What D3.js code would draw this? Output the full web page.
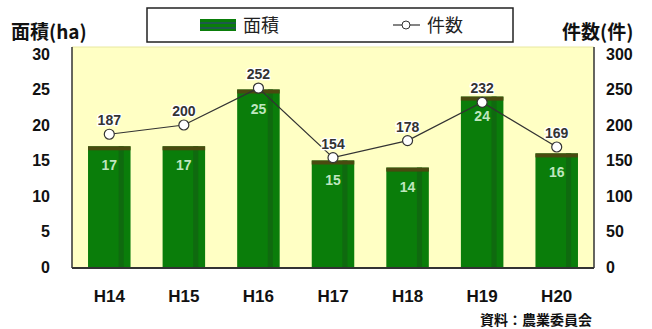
<!DOCTYPE html>
<html><head><meta charset="utf-8">
<script src="https://cdn.jsdelivr.net/npm/d3@7"></script>
<style>body{margin:0;background:#fff}svg{display:block}</style>
</head><body>
<svg id="c" width="652" height="329"></svg>
<script>
const categories = ["H14","H15","H16","H17","H18","H19","H20"];
const areaValues = [17, 17, 25, 15, 14, 24, 16];
const countValues = [187, 200, 252, 154, 178, 232, 169];
const leftTicks = [0,5,10,15,20,25,30];
const rightTicks = [0,50,100,150,200,250,300];

const svg = d3.select("#c");
const plot = {l:72, r:594, t:47, b:268};
const x = d3.scaleBand().domain(categories).range([plot.l, plot.r]).paddingInner(0.43).paddingOuter(0.215);
const yL = d3.scaleLinear().domain([0,30]).range([267, 54]);
const yR = d3.scaleLinear().domain([0,300]).range([267, 54]);
const numFont = "'Liberation Sans', Arial, sans-serif";
const jpFont = "'Noto Sans CJK JP', 'Noto Sans', sans-serif";

// plot background
svg.append("rect").attr("x",plot.l).attr("y",plot.t).attr("width",plot.r-plot.l).attr("height",plot.b-plot.t)
  .attr("fill","#ffffc4");
svg.append("line").attr("x1",plot.l).attr("x2",plot.r).attr("y1",plot.t).attr("y2",plot.t).attr("stroke","#e8e8a0").attr("stroke-width",1);
svg.append("line").attr("x1",plot.l).attr("x2",plot.l).attr("y1",plot.t).attr("y2",plot.b).attr("stroke","#333").attr("stroke-width",1.5);
svg.append("line").attr("x1",plot.r).attr("x2",plot.r).attr("y1",plot.t).attr("y2",plot.b).attr("stroke","#333").attr("stroke-width",1.5);

// bars
const bars = svg.append("g");
categories.forEach((c,i)=>{
  const bx = x(c), bw = x.bandwidth(), top = yL(areaValues[i]);
  bars.append("rect").attr("x",bx).attr("y",top).attr("width",bw).attr("height",yL(0)-top).attr("fill","#0a7d0a");
  bars.append("rect").attr("x",bx+bw*0.72).attr("y",top).attr("width",bw*0.12).attr("height",yL(0)-top).attr("fill","#0f6a0f");
  bars.append("rect").attr("x",bx).attr("y",top).attr("width",bw).attr("height",4).attr("fill","#4a4a10");
  bars.append("text").attr("x",bx+bw/2).attr("y",top+24).attr("text-anchor","middle")
    .attr("font-family",numFont).attr("font-weight","bold").attr("font-size",14).attr("fill","#bfe6bf")
    .text(areaValues[i]);
});

// bottom axis line
svg.append("line").attr("x1",plot.l).attr("x2",plot.r).attr("y1",plot.b).attr("y2",plot.b).attr("stroke","#333").attr("stroke-width",2);
const xa = svg.append("g").attr("transform",`translate(0,${plot.b})`)
  .call(d3.axisBottom(x).tickSize(0).tickPadding(22));
xa.select(".domain").remove();
xa.selectAll("text").attr("font-family",numFont).attr("font-weight","bold").attr("font-size",17).attr("fill","#111");

// left axis
const la = svg.append("g").attr("transform","translate(52,0)")
  .call(d3.axisLeft(yL).tickValues(leftTicks).tickSize(0).tickPadding(2));
la.select(".domain").remove();
la.selectAll("text").attr("font-family",numFont).attr("font-weight","bold").attr("font-size",16).attr("fill","#111");

// right axis
const ra = svg.append("g").attr("transform","translate(604,0)")
  .call(d3.axisRight(yR).tickValues(rightTicks).tickSize(0).tickPadding(2));
ra.select(".domain").remove();
ra.selectAll("text").attr("font-family",numFont).attr("font-weight","bold").attr("font-size",16).attr("fill","#111");

// line
const line = d3.line().x((d,i)=>x(categories[i])+x.bandwidth()/2).y(d=>yR(d));
svg.append("path").datum(countValues).attr("d",line).attr("fill","none").attr("stroke","#333").attr("stroke-width",1.2);
const pts = svg.append("g");
countValues.forEach((v,i)=>{
  const cx = x(categories[i])+x.bandwidth()/2, cy = yR(v);
  pts.append("circle").attr("cx",cx).attr("cy",cy).attr("r",5).attr("fill","#fff").attr("stroke","#333").attr("stroke-width",1.2);
  pts.append("text").attr("x",cx).attr("y",cy-9).attr("text-anchor","middle")
    .attr("font-family",numFont).attr("font-weight","bold").attr("font-size",14).attr("fill","#333")
    .attr("stroke","#fff").attr("stroke-width",2.5).attr("paint-order","stroke").text(v);
});

// axis titles
svg.append("text").attr("x",11).attr("y",39).attr("font-family",jpFont).attr("font-weight","bold").attr("font-size",19).attr("fill","#111").text("面積(ha)");
svg.append("text").attr("x",562).attr("y",39).attr("font-family",jpFont).attr("font-weight","bold").attr("font-size",19).attr("fill","#111").text("件数(件)");

// legend
svg.append("rect").attr("x",147).attr("y",8).attr("width",366).attr("height",34).attr("fill","#fff").attr("stroke","#222").attr("stroke-width",1.5);
const lg = svg.append("g");
lg.append("rect").attr("x",200).attr("y",19).attr("width",36).attr("height",12).attr("fill","#0a7d0a");
lg.append("rect").attr("x",200).attr("y",22).attr("width",36).attr("height",2).attr("fill","#1d5a4a");
lg.append("rect").attr("x",200).attr("y",27).attr("width",36).attr("height",2).attr("fill","#1d5a4a");
lg.append("text").attr("x",243).attr("y",32).attr("font-family",jpFont).attr("font-size",18).attr("fill","#222").text("面積");
lg.append("line").attr("x1",393).attr("x2",420).attr("y1",25).attr("y2",25).attr("stroke","#333").attr("stroke-width",1.2);
lg.append("circle").attr("cx",406).attr("cy",25).attr("r",4).attr("fill","#fff").attr("stroke","#333");
lg.append("text").attr("x",427).attr("y",32).attr("font-family",jpFont).attr("font-size",18).attr("fill","#222").text("件数");

// source
svg.append("text").attr("x",592).attr("y",325).attr("text-anchor","end").attr("font-family",jpFont).attr("font-weight","bold").attr("font-size",14).attr("fill","#111").text("資料：農業委員会");
</script>
</body></html>
